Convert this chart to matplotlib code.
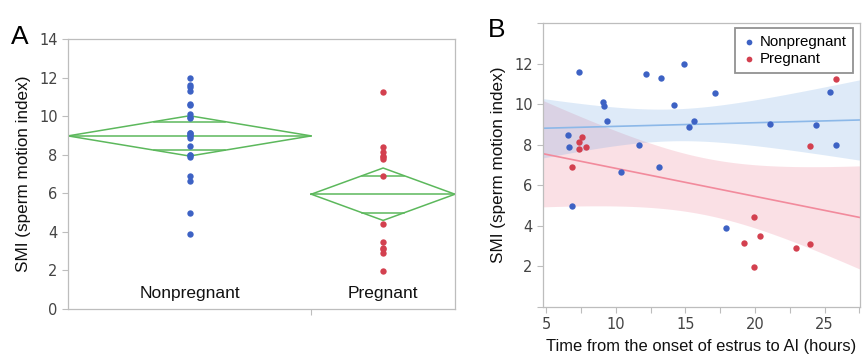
import numpy as np
import matplotlib
matplotlib.use("Agg")
import matplotlib.pyplot as plt

# ---------------- data ----------------
groups = ["Nonpregnant", "Pregnant"]
np_time = [6.6, 6.67, 7.36, 6.89, 9.06, 9.18, 9.37, 10.39, 11.68, 12.21, 13.09,
           13.28, 14.21, 14.9, 15.29, 15.6, 17.1, 17.91, 21.11, 24.4, 25.41, 25.81]
np_smi = [8.46, 7.89, 11.59, 4.98, 10.13, 9.9, 9.15, 6.65, 7.99, 11.51, 6.9,
          11.31, 9.98, 12.0, 8.86, 9.15, 10.57, 3.88, 9.0, 8.99, 10.62, 7.97]
pr_time = [7.39, 7.6, 7.36, 7.89, 6.89, 23.93, 25.84, 19.92, 19.22, 20.39, 19.92, 22.92, 23.93]
pr_smi = [8.15, 8.38, 7.79, 7.89, 6.88, 7.95, 11.24, 4.43, 3.18, 3.5, 1.95, 2.92, 3.12]

t_pooled = 2.0345          # t(0.975, df=33)
t_reg = {22: 1.725, 13: 1.796}  # t(0.95, n-2) -> 90% band

BLUE = "#3d62c4"
RED = "#d3404f"
GREEN = "#5cb85c"
GREY = "#bdbdbd"
TICKC = "#444444"
DOT = 21

plt.rcParams["font.family"] = ["Liberation Sans", "DejaVu Sans"]

fig = plt.figure(figsize=(8.64, 3.56), dpi=100)

# ---------------- Panel A ----------------
axA = fig.add_axes([0.0787, 0.132, 0.4479, 0.7584])
data = [np.array(np_smi), np.array(pr_smi)]
ns = [len(d) for d in data]
edges = np.concatenate([[0], np.cumsum(ns)])
N = sum(ns)
sse = sum(((d - d.mean()) ** 2).sum() for d in data)
s_pooled = np.sqrt(sse / (N - len(data)))
colors = [BLUE, RED]
for i, d in enumerate(data):
    l, r = edges[i], edges[i + 1]
    c = (l + r) / 2
    m = d.mean()
    ci = t_pooled * s_pooled / np.sqrt(len(d))
    axA.plot([l, c, r, c, l], [m, m + ci, m, m - ci, m], color=GREEN, lw=1.1, zorder=2)
    axA.plot([l, r], [m, m], color=GREEN, lw=1.1, zorder=2)
    ov = ci / np.sqrt(2)
    hw = (r - l) / 2 * (1 - ov / ci)
    for yy in (m + ov, m - ov):
        axA.plot([c - hw, c + hw], [yy, yy], color=GREEN, lw=1.1, zorder=2)
    axA.scatter(np.full(len(d), c), d, s=DOT, color=colors[i], zorder=3, linewidths=0)
    axA.text(c, 0.8, groups[i], ha="center", va="center", fontsize=12.5, color="#111111")
axA.set_xlim(0, N)
axA.set_ylim(0, 14)
axA.set_yticks(range(0, 15, 2))
axA.set_xticks([edges[1]])
axA.set_xticklabels([""])
axA.tick_params(axis="y", colors=GREY, labelcolor=TICKC, labelsize=10.5, length=4, width=0.8)
axA.tick_params(axis="x", colors=GREY, length=4, width=0.8)
for lab in axA.get_yticklabels():
    lab.set_family("DejaVu Sans")
for sp in axA.spines.values():
    sp.set_color(GREY)
    sp.set_linewidth(0.9)
axA.set_ylabel("SMI (sperm motion index)", fontsize=12.3, color="#111111", labelpad=6)
fig.text(0.013, 0.895, "A", fontsize=19, ha="left", va="center")

# ---------------- Panel B ----------------
axB = fig.add_axes([0.6285, 0.1376, 0.3669, 0.7978])
xlim = (4.78, 27.55)
xs = np.linspace(xlim[0], xlim[1], 200)
series = [(np.array(pr_time), np.array(pr_smi), RED, "#ec6e87", "#f28a9c"),
          (np.array(np_time), np.array(np_smi), BLUE, "#64a0e1", "#8cb8e8")]
for x, y, dc, fc, lc in series:
    n = len(x)
    b, a = np.polyfit(x, y, 1)
    resid = y - (a + b * x)
    s = np.sqrt((resid ** 2).sum() / (n - 2))
    sxx = ((x - x.mean()) ** 2).sum()
    yhat = a + b * xs
    se = s * np.sqrt(1 / n + (xs - x.mean()) ** 2 / sxx)
    tt = t_reg[n]
    axB.fill_between(xs, yhat - tt * se, yhat + tt * se, color=fc, alpha=0.21, lw=0, zorder=1)
    axB.plot(xs, yhat, color=lc, lw=1.2, zorder=2)
axB.scatter(np_time, np_smi, s=DOT, color=BLUE, zorder=3, linewidths=0, label="Nonpregnant")
axB.scatter(pr_time, pr_smi, s=DOT, color=RED, zorder=3, linewidths=0, label="Pregnant")
axB.set_xlim(*xlim)
axB.set_ylim(0, 14)
axB.set_xticks(np.arange(5, 27.6, 2.5))
axB.set_xticklabels([str(int(v)) if v % 5 == 0 else "" for v in np.arange(5, 27.6, 2.5)])
axB.set_yticks(range(0, 15, 2))
axB.set_yticklabels(["" if v in (0, 14) else str(v) for v in range(0, 15, 2)])
axB.tick_params(colors=GREY, labelcolor=TICKC, labelsize=10.5, length=4, width=0.8)
for lab in axB.get_xticklabels() + axB.get_yticklabels():
    lab.set_family("DejaVu Sans")
for sp in axB.spines.values():
    sp.set_color(GREY)
    sp.set_linewidth(0.9)
axB.set_ylabel("SMI (sperm motion index)", fontsize=12.3, color="#111111", labelpad=6)
axB.set_xlabel("Time from the onset of estrus to AI (hours)", fontsize=11.9, color="#111111", labelpad=5)
leg = axB.legend(loc="upper right", bbox_to_anchor=(0.978, 0.982), borderaxespad=0,
                 fontsize=10.8, frameon=True, fancybox=False, handletextpad=0.2,
                 handlelength=1.0, borderpad=0.45, labelspacing=0.2, markerscale=0.9)
leg.get_frame().set_edgecolor("#777777")
leg.get_frame().set_linewidth(1.3)
fig.text(0.565, 0.915, "B", fontsize=19, ha="left", va="center")

fig.savefig("out.png", dpi=100)
